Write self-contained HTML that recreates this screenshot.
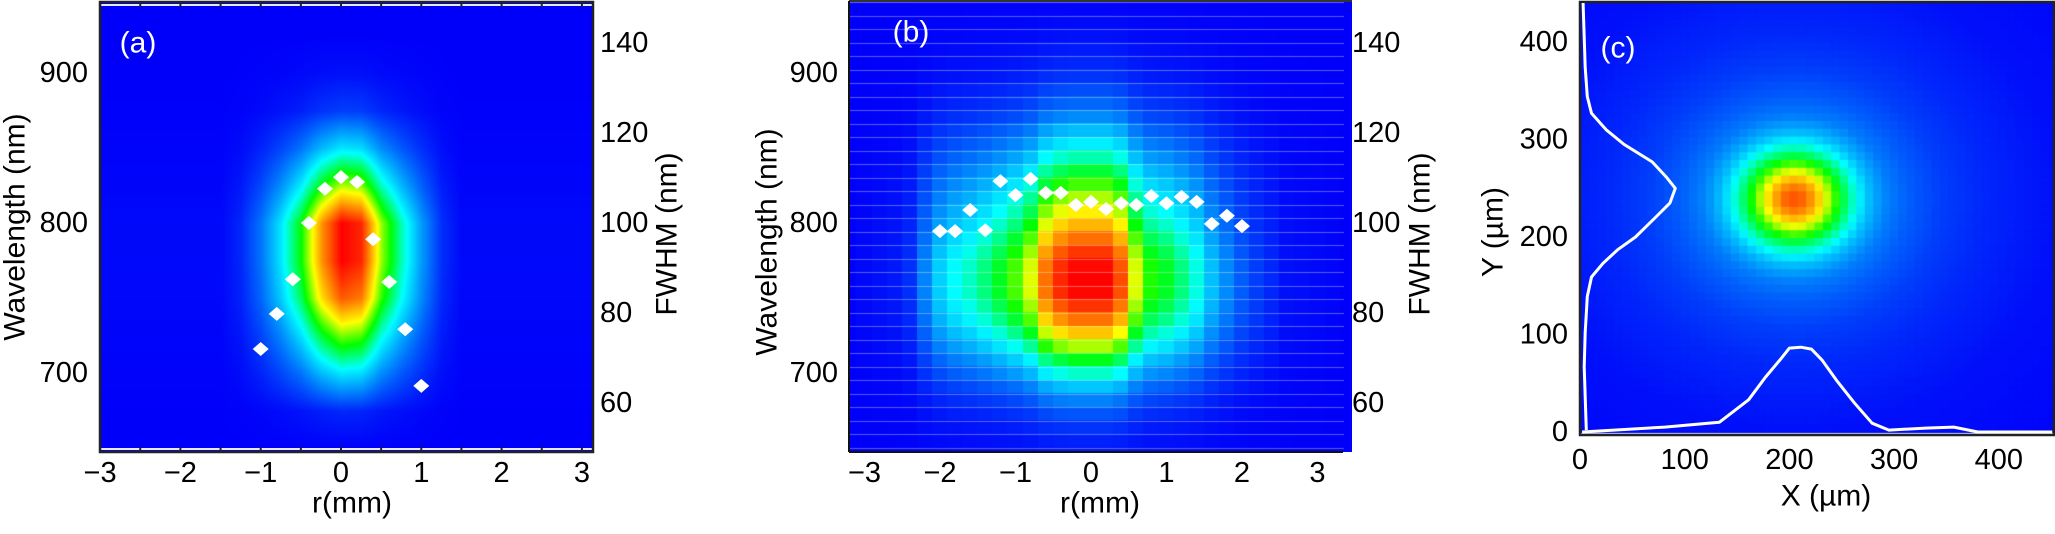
<!DOCTYPE html>
<html><head><meta charset="utf-8"><style>
html,body{margin:0;padding:0;background:#fff;}
#wrap{position:relative;width:2055px;height:534px;overflow:hidden;font-family:"Liberation Sans",sans-serif;}
canvas{position:absolute;}
svg{position:absolute;left:0;top:0;}
text{font-family:"Liberation Sans",sans-serif;}
</style></head><body>
<div id="wrap">
<canvas id="ca" width="493" height="450" style="left:100px;top:2px"></canvas>
<canvas id="cb" width="503" height="450" style="left:849px;top:2px"></canvas>
<canvas id="cc" width="474" height="433" style="left:1580px;top:2px"></canvas>
<svg id="sv" width="2055" height="534"></svg>
</div>
<script>
// ---------- data ----------
// panel (a)
const aProfR = [-1.5,-1.25,-1,-0.75,-0.5,-0.25,0,0.25,0.5,0.75,1,1.25,1.5];
const aProfRVal = [0.01,0.05,0.15,0.3,0.5,0.8,1,0.95,0.6,0.38,0.2,0.06,0.01];
const aProfL = [650,675,700,725,750,775,800,825,850,875,900,925,950];
const aProfLVal = [0,0.05,0.3,0.58,0.88,1,1,0.62,0.3,0.08,0.02,0,0];
const aR = [-1,-0.8,-0.6,-0.4,-0.2,0,0.2,0.4,0.6,0.8,1.0];
const aFWHM = [72,79.8,87.5,100,107.6,110.2,109.1,96.4,86.9,76.4,63.8];
// panel (b)
const bProfR = [-3.2,-2.6,-2.4,-2.2,-2,-1.8,-1.6,-1.4,-1.2,-1,-0.8,-0.6,-0.4,-0.2,0,0.2,0.4,0.6,0.8,1,1.2,1.4,1.6,1.8,2,2.2,2.4,2.6,3.4];
const bProfRVal = [0,0.03,0.06,0.17,0.27,0.33,0.37,0.42,0.48,0.55,0.65,0.85,0.95,1,1,1,0.9,0.65,0.52,0.48,0.42,0.35,0.25,0.18,0.12,0.08,0.05,0.02,0];
const bProfL = [650,665,680,695,710,725,740,755,770,785,800,825,850,875,900,925,950];
const bProfLVal = [0.03,0.07,0.15,0.3,0.5,0.72,0.9,1,1,0.9,0.75,0.55,0.33,0.15,0.06,0.02,0];
const bR = [-2,-1.8,-1.6,-1.4,-1.2,-1,-0.8,-0.6,-0.4,-0.2,0,0.2,0.4,0.6,0.8,1,1.2,1.4,1.6,1.8,2];
const bFWHM = [98.2,98.2,102.9,98.4,109.3,106.2,109.8,106.7,106.7,104,104.7,103.1,104.4,104,106,104.4,105.8,104.7,99.8,101.6,99.3];
// panel (c)
const cCenter = [205,240];
const cRadDist = [0,10,20,30,40,50,60,70,80,90,110,140,180,250,400];
const cRadVal = [0.9,0.86,0.77,0.65,0.52,0.42,0.33,0.25,0.2,0.16,0.12,0.08,0.05,0.02,0];
const cXprofX = [2,81,133,161,177,191,200,211,221,231,245,262,279,295,330,357,380,451];
const cXprofH = [0,5,10,33,56,74,86,87,85,74,53,30,9,2,4,5,0,0];
const cYprofY = [440,374,344,327,310,295,277,262,250,235,221,200,187,173,159,139,102,67,2];
const cYprofV = [3,5,7,11,25,42,69,82,91,86,73,53,36,22,11,7,5,4,6];
const abTicksX = [-3,-2,-1,0,1,2,3];
const lamTicks = [700,800,900];
const fwhmTicks = [60,80,100,120,140];
const cTicks = [0,100,200,300,400];

// ---------- scales ----------
const axA = r => 341 + 80.3*r;
const axB = r => 1091 + 75.5*r;
const yLam = l => 223 - (l-800)*1.5;
const yF = f => 223 - (f-100)*4.5;
const cx = v => 1580 + 1.047*v;
const cy = v => 432 - 0.975*v;

function interp(xs, ys, x){
  if(x<=xs[0]) return ys[0];
  if(x>=xs[xs.length-1]) return ys[ys.length-1];
  for(let i=0;i<xs.length-1;i++){ if(x<=xs[i+1]){const t=(x-xs[i])/(xs[i+1]-xs[i]);return ys[i]+t*(ys[i+1]-ys[i]);} }
}
const stops=[[0,0,0,250],[0.33,0,255,255],[0.5,0,255,0],[0.67,255,255,0],[0.83,255,128,0],[1,255,0,0]];
function jet(t){
  t=Math.max(0,Math.min(1,t));
  for(let i=0;i<stops.length-1;i++){ if(t<=stops[i+1][0]){const a=stops[i],b=stops[i+1],u=(t-a[0])/(b[0]-a[0]);
    return [a[1]+u*(b[1]-a[1]),a[2]+u*(b[2]-a[2]),a[3]+u*(b[3]-a[3])];}}
  return [255,0,0];
}
// heatmap a (smooth)
(function(){
  const c=document.getElementById('ca'),g=c.getContext('2d'),im=g.createImageData(c.width,c.height);
  for(let py=0;py<c.height;py++){
    const lam=800-((py+2)-223)/1.5, lv=interp(aProfL,aProfLVal,lam);
    for(let px=0;px<c.width;px++){
      const r=((px+100)-341)/80.3;
      const v=interp(aProfR,aProfRVal,r)*lv;
      const col=jet(v),k=(py*c.width+px)*4;
      im.data[k]=col[0];im.data[k+1]=col[1];im.data[k+2]=col[2];im.data[k+3]=255;
    }
  }
  g.putImageData(im,0,0);
})();
// heatmap b (blocks)
(function(){
  const c=document.getElementById('cb'),g=c.getContext('2d');
  const rowH=13.5;
  for(let y0=0;y0<c.height;y0+=rowH){
    const lam=800-((y0+rowH/2+2)-223)/1.5, lv=interp(bProfL,bProfLVal,lam);
    for(let r=-3.2;r<3.5;r+=0.2){
      const v=interp(bProfR,bProfRVal,Math.round(r*5)/5)*lv;
      const col=jet(v);
      g.fillStyle='rgb('+col.map(Math.round).join(',')+')';
      const x0=axB(r-0.1)-849;
      g.fillRect(Math.floor(x0),Math.floor(y0),Math.ceil(75.5*0.2)+1,Math.ceil(rowH)+1);
    }
    g.fillStyle='rgba(255,255,255,0.35)';
    g.fillRect(0,Math.round(y0),c.width-8,1);
  }
})();
// heatmap c (pixel blocks)
(function(){
  const c=document.getElementById('cc'),g=c.getContext('2d');
  const s=8;
  for(let Y=0;Y<460;Y+=s){for(let X=0;X<460;X+=s){
    const dx=X+s/2-cCenter[0],dy=(Y+s/2-cCenter[1])*1.05;
    const v=interp(cRadDist,cRadVal,Math.sqrt(dx*dx+dy*dy));
    const col=jet(v);
    g.fillStyle='rgb('+col.map(Math.round).join(',')+')';
    g.fillRect(cx(X)-1580,cy(Y+s)-2,1.047*s+1,0.975*s+1);
  }}
})();

// ---------- svg ----------
const NS='http://www.w3.org/2000/svg', sv=document.getElementById('sv');
function el(tag,attrs,txt){const e=document.createElementNS(NS,tag);for(const k in attrs)e.setAttribute(k,attrs[k]);if(txt!==undefined)e.textContent=txt;sv.appendChild(e);return e;}
function txt(x,y,s,name,opts){
  opts=opts||{};
  const e=el('text',{x:x,y:y,'font-size':opts.fs||29,'text-anchor':opts.anchor||'middle','dominant-baseline':'central',fill:opts.fill||'#000'},s);
  if(opts.rot) e.setAttribute('transform','rotate(-90 '+x+' '+y+')');
  
  
  return e;
}
function diamond(x,y,name){
  const p=el('polygon',{points:(x-8)+','+y+' '+x+','+(y-7)+' '+(x+8)+','+y+' '+x+','+(y+7),fill:'#fff'});
  
  
}
// panel a frame
el('line',{x1:101,y1:5,x2:592,y2:5,stroke:'#e8e8f0','stroke-width':2});
el('line',{x1:101,y1:449,x2:592,y2:449,stroke:'#e8e8f0','stroke-width':2});
for(let r=-3;r<=3;r+=0.5){el('line',{x1:axA(r),y1:3,x2:axA(r),y2:7,stroke:'#222','stroke-width':2});el('line',{x1:axA(r),y1:447,x2:axA(r),y2:451,stroke:'#222','stroke-width':2});}
const fa=el('rect',{x:100,y:2,width:493,height:450,fill:'none',stroke:'#222','stroke-width':2.5});


abTicksX.forEach(v=>txt(axA(v),473,(v<0?'\u2212':'')+Math.abs(v),'x-tick-a'));
lamTicks.forEach(v=>txt(88,yLam(v),String(v),'y-tick-a',{anchor:'end'}));
fwhmTicks.forEach(v=>txt(600,yF(v),String(v),'fwhm-tick-a',{anchor:'start'}));
txt(352,503,'r(mm)','x-axis-title-a',{fs:30});
txt(15,227,'Wavelength (nm)','y-axis-title-a',{fs:30,rot:true});
txt(667,234,'FWHM (nm)','fwhm-axis-title-a',{fs:30,rot:true});
txt(138,43,'(a)','panel-label-a',{fs:30,fill:'#fff'});
aR.forEach((r,i)=>diamond(axA(r),yF(aFWHM[i]),'fwhm-point-a'));

// panel b
const fb=el('line',{x1:849,y1:452,x2:1343,y2:452,stroke:'#111','stroke-width':2});


el('line',{x1:849,y1:1,x2:1352,y2:1,stroke:'#333','stroke-width':2});
el('line',{x1:849,y1:1,x2:849,y2:452,stroke:'#111','stroke-width':2});
abTicksX.forEach(v=>txt(axB(v),473,(v<0?'\u2212':'')+Math.abs(v),'x-tick-b'));
lamTicks.forEach(v=>txt(838,yLam(v),String(v),'y-tick-b',{anchor:'end'}));
fwhmTicks.forEach(v=>txt(1352,yF(v),String(v),'fwhm-tick-b',{anchor:'start'}));
txt(1100,503,'r(mm)','x-axis-title-b',{fs:30});
txt(767,242,'Wavelength (nm)','y-axis-title-b',{fs:30,rot:true});
txt(1420,234,'FWHM (nm)','fwhm-axis-title-b',{fs:30,rot:true});
txt(911,32,'(b)','panel-label-b',{fs:30,fill:'#fff'});
bR.forEach((r,i)=>diamond(axB(r),yF(bFWHM[i]),'fwhm-point-b'));

// panel c
const fc=el('rect',{x:1580,y:2,width:474,height:433,fill:'none',stroke:'#222','stroke-width':2.5});


cTicks.forEach(v=>txt(cx(v),460,String(v),'x-tick-c'));
cTicks.forEach(v=>txt(1568,cy(v),String(v),'y-tick-c',{anchor:'end'}));
txt(1826,496,'X (\u00b5m)','x-axis-title-c',{fs:30});
txt(1493,232,'Y (\u00b5m)','y-axis-title-c',{fs:30,rot:true});
txt(1618,48,'(c)','panel-label-c',{fs:30,fill:'#fff'});
let dX=cXprofX.map((x,i)=>(i?'L':'M')+cx(x).toFixed(1)+','+cy(cXprofH[i]).toFixed(1)).join(' ');
const px=el('path',{d:dX,fill:'none',stroke:'#fff','stroke-width':3,'stroke-linejoin':'round'});


let dY=cYprofY.map((y,i)=>(i?'L':'M')+cx(cYprofV[i]).toFixed(1)+','+cy(y).toFixed(1)).join(' ');
const py=el('path',{d:dY,fill:'none',stroke:'#fff','stroke-width':3,'stroke-linejoin':'round'});


</script>
</body></html>
